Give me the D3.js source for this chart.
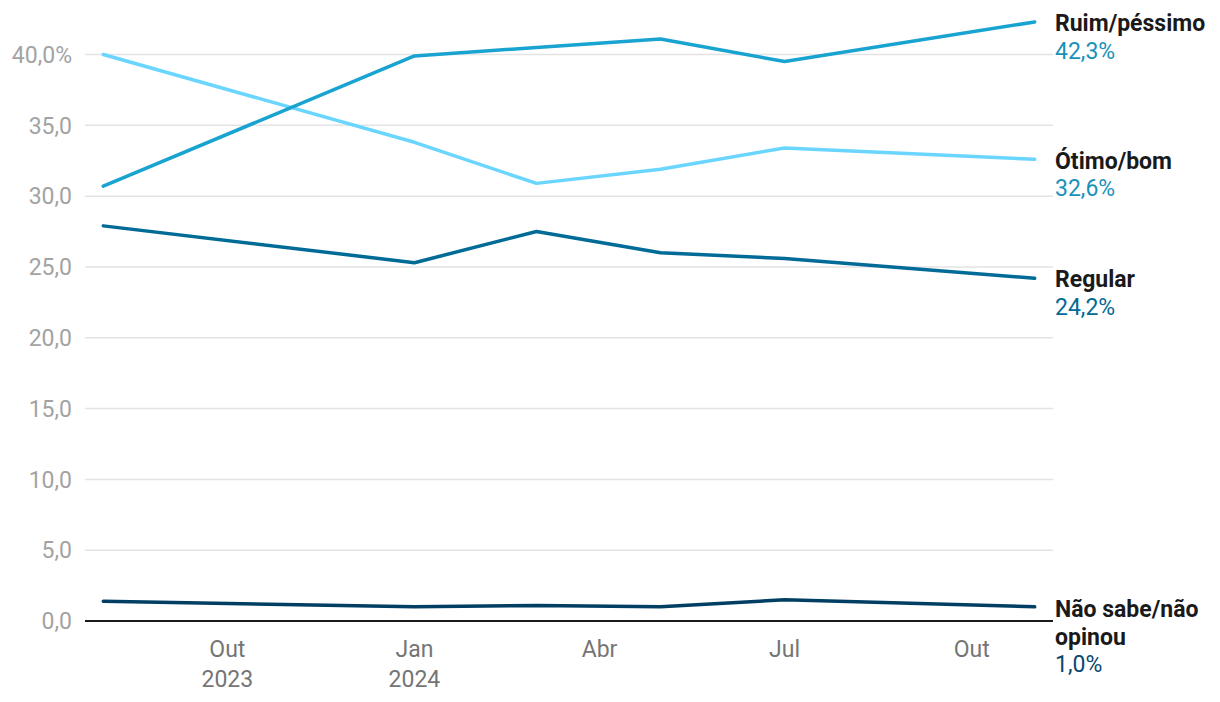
<!DOCTYPE html>
<html>
<head>
<meta charset="utf-8">
<script src="https://cdn.jsdelivr.net/npm/d3@7"></script>
<style>
  html, body { margin: 0; padding: 0; background: #fff; }
  svg { display: block; font-family: Roboto, "Noto Sans", sans-serif; }
</style>
</head>
<body>
<svg id="chart" width="1220" height="702"></svg>
<script>
const dates = ["2023-08-01", "2024-01-01", "2024-03-01", "2024-05-01", "2024-07-01", "2024-11-01"];
const ruimPessimo = [30.7, 39.9, 40.5, 41.1, 39.5, 42.3];
const otimoBom    = [40.0, 33.8, 30.9, 31.9, 33.4, 32.6];
const regular     = [27.9, 25.3, 27.5, 26.0, 25.6, 24.2];
const naoSabe     = [1.4, 1.0, 1.1, 1.0, 1.5, 1.0];
const seriesNames = [["Ruim/péssimo"], ["Ótimo/bom"], ["Regular"], ["Não sabe/não", "opinou"]];
const lineColors  = ["#18a3d1", "#6ad5ff", "#006b96", "#003f63"];
const valueColors = ["#1a91ba", "#1a91ba", "#006b96", "#0a4770"];
const yTicks = [0, 5, 10, 15, 20, 25, 30, 35, 40];
const xTickDates = ["2023-10-01", "2024-01-01", "2024-04-01", "2024-07-01", "2024-10-01"];
const xTickLabels = [["Out", "2023"], ["Jan", "2024"], ["Abr"], ["Jul"], ["Out"]];
const xDomain = ["2023-07-23", "2024-11-10"];

const parse = d3.utcParse("%Y-%m-%d");
const svg = d3.select("#chart");

const x = d3.scaleUtc().domain(xDomain.map(parse)).range([85, 1053]);
const y = d3.scaleLinear().domain([0, 40]).range([621, 54.5]);

const fmt = v => d3.format(".1f")(v).replace(".", ",");

// gridlines
svg.append("g").selectAll("line").data(yTicks.filter(t => t > 0)).join("line")
  .attr("x1", 85).attr("x2", 1053)
  .attr("y1", d => y(d)).attr("y2", d => y(d))
  .attr("stroke", "#e3e3e3").attr("stroke-width", 1.5);

// y tick labels
svg.append("g").selectAll("text").data(yTicks).join("text")
  .attr("x", 72).attr("y", d => y(d)).attr("dy", "0.36em")
  .attr("text-anchor", "end")
  .attr("font-size", 23).attr("fill", "#a3a3a3")
  .text(d => d === 40 ? fmt(d) + "%" : fmt(d));

// baseline
svg.append("line")
  .attr("x1", 85).attr("x2", 1053)
  .attr("y1", y(0)).attr("y2", y(0))
  .attr("stroke", "#1a1a1a").attr("stroke-width", 2);

// x tick labels
const xg = svg.append("g");
xTickDates.forEach((d, i) => {
  const xp = x(parse(d));
  xTickLabels[i].forEach((s, j) => {
    xg.append("text")
      .attr("x", xp).attr("y", 657 + j * 30)
      .attr("text-anchor", "middle")
      .attr("font-size", 23).attr("fill", "#757575")
      .text(s);
  });
});

// lines
const allSeries = [ruimPessimo, otimoBom, regular, naoSabe];
const line = d3.line()
  .x((d, i) => x(parse(dates[i])))
  .y(d => y(d));

[3, 2, 1, 0].forEach(k => {
  svg.append("path")
    .datum(allSeries[k])
    .attr("d", line)
    .attr("fill", "none")
    .attr("stroke", lineColors[k])
    .attr("stroke-width", 3.5)
    .attr("stroke-linejoin", "round")
    .attr("stroke-linecap", "round");
});

// end labels
const labelBaseline = [31, 168.5, 287, 617];
const lg = svg.append("g");
allSeries.forEach((s, k) => {
  const lines = seriesNames[k];
  lines.forEach((nm, j) => {
    lg.append("text")
      .attr("x", 1055).attr("y", labelBaseline[k] + j * 27.5)
      .attr("font-size", 23).attr("font-weight", 700).attr("fill", "#1a1a1a")
      .text(nm);
  });
  lg.append("text")
    .attr("x", 1055).attr("y", labelBaseline[k] + lines.length * 27.5)
    .attr("font-size", 23).attr("fill", valueColors[k])
    .text(fmt(s[s.length - 1]) + "%");
});
</script>
</body>
</html>
